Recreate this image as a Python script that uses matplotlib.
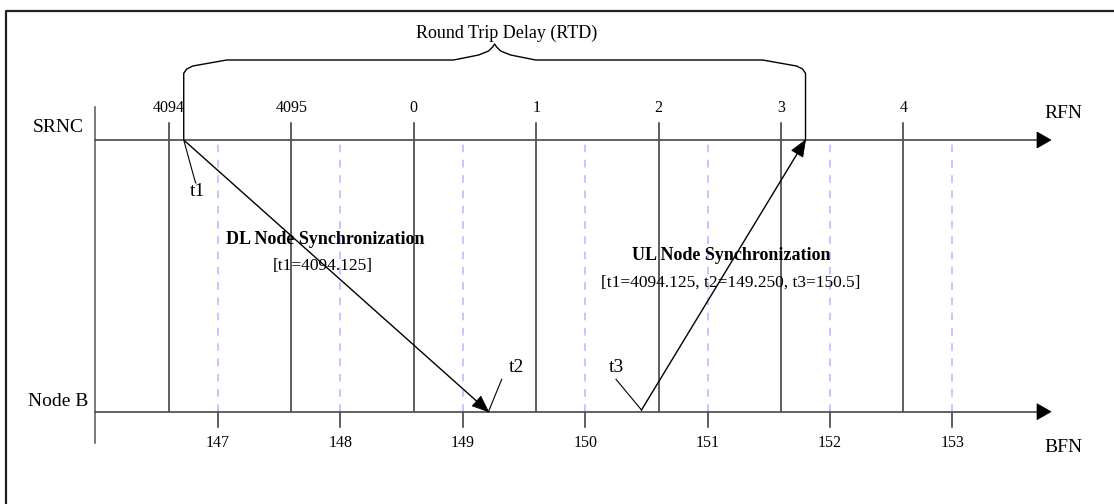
import matplotlib
matplotlib.use("Agg")
import matplotlib.pyplot as plt
from matplotlib.patches import Polygon
import numpy as np

# ---------------- data ----------------
rfn_labels = ['4094', '4095', '0', '1', '2', '3', '4']
rfn_x = [146.6, 147.6, 148.6, 149.6, 150.6, 151.6, 152.6]      # RFN frame starts on BFN scale
bfn_ticks = [147, 148, 149, 150, 151, 152, 153]
bfn_labels = ['147', '148', '149', '150', '151', '152', '153']
t1_x = 146.72        # DL frame sent from SRNC
t2_x = 149.21        # DL frame arrives at Node B
t3_x = 150.46        # UL frame sent from Node B
t4_x = 151.80        # UL frame arrives at SRNC
dl_title = 'DL Node Synchronization'
dl_params = '[t1=4094.125]'
ul_title = 'UL Node Synchronization'
ul_params = '[t1=4094.125, t2=149.250, t3=150.5]'
rtd_label = 'Round Trip Delay (RTD)'

# ---------------- layout ----------------
W, H = 1114, 504
X0PX, XSCALE = 218.0, 122.4       # pixel of BFN 147, pixels per frame
Y0PX, YSCALE = 411.7, 271.7       # pixel of Node B line, pixels per level

def px2x(p):
    return 147 + (p - X0PX) / XSCALE

def px2y(p):
    return (Y0PX - p) / YSCALE

def x2px(x):
    return X0PX + (x - 147) * XSCALE

def y2px(y):
    return Y0PX - y * YSCALE

Y_SRNC, Y_NODEB = 1.0, 0.0

plt.rcParams['font.family'] = ['Liberation Serif', 'DejaVu Serif']
fig = plt.figure(figsize=(W / 100, H / 100), dpi=100)
ax = fig.add_axes([0, 0, 1, 1])
ax.set_xlim(px2x(0), px2x(W))
ax.set_ylim(px2y(H), px2y(0))
ax.axis('off')

axis_col = '#555555'
dash_col = '#cdaaff'

# outer frame (top and left only visible)
ax.plot([px2x(6), px2x(6), px2x(W + 5)], [px2y(H + 5), px2y(11), px2y(11)],
        color='#222222', lw=1.6, solid_capstyle='butt')

# left vertical reference line
ax.plot([px2x(95), px2x(95)], [px2y(107), px2y(443)], color=axis_col, lw=1.1)

def head(tip, frm, length=15, half=6.5):
    tx, ty = x2px(tip[0]), y2px(tip[1])
    fx, fy = x2px(frm[0]), y2px(frm[1])
    d = np.array([tx - fx, ty - fy])
    d /= np.hypot(*d)
    n = np.array([-d[1], d[0]])
    b = np.array([tx, ty]) - d * length
    pts = [(tx, ty), tuple(b + n * half), tuple(b - n * half)]
    ax.add_patch(Polygon([(px2x(p[0]), px2y(p[1])) for p in pts], closed=True,
                         facecolor='black', edgecolor='black', lw=0.5, zorder=5))

# time axes
x_end = px2x(1037)
for yy in (Y_SRNC, Y_NODEB):
    ax.plot([px2x(95), x_end], [yy, yy], color=axis_col, lw=1.3, zorder=3)
    head((px2x(1051), yy), (px2x(95), yy), length=14, half=8)

# RFN frame boundaries
for xv, lab in zip(rfn_x, rfn_labels):
    ax.plot([xv, xv], [Y_NODEB, px2y(123)], color='#333333', lw=1.1, zorder=2)
    ax.text(xv, px2y(108), lab, ha='center', va='center', fontsize=11.5)

# BFN frame boundaries
for xv, lab in zip(bfn_ticks, bfn_labels):
    ax.plot([xv, xv], [Y_NODEB, Y_SRNC], color=dash_col, lw=1.1,
            dashes=(5, 5), zorder=1)
    ax.plot([xv, xv], [Y_NODEB, px2y(426.7)], color='#333333', lw=1.1)
    ax.text(xv, px2y(443), lab, ha='center', va='center', fontsize=11.5)

# axis names
ax.text(px2x(84), px2y(128), 'SRNC', ha='right', va='center', fontsize=14)
ax.text(px2x(88), px2y(401), 'Node B', ha='right', va='center', fontsize=14)
ax.text(px2x(1063), px2y(113), 'RFN', ha='center', va='center', fontsize=14)
ax.text(px2x(1063), px2y(447), 'BFN', ha='center', va='center', fontsize=14)

# DL message
ax.plot([t1_x, t2_x], [Y_SRNC, Y_NODEB], color='black', lw=1.0, zorder=4)
head((t2_x, Y_NODEB), (t1_x, Y_SRNC), length=16, half=6.5)
# UL message
ax.plot([t3_x, t4_x], [px2y(410), Y_SRNC], color='black', lw=1.0, zorder=4)
head((t4_x, Y_SRNC), (t3_x, Y_NODEB), length=16, half=6.5)

# t labels with leaders
ax.plot([t1_x, px2x(195), px2x(196)], [Y_SRNC, px2y(181), px2y(183)],
        color='black', lw=0.8)
ax.text(px2x(197), px2y(192), 't1', ha='center', va='center', fontsize=14)
ax.plot([t2_x, px2x(501.7)], [Y_NODEB, px2y(379.3)], color='black', lw=0.8)
ax.text(px2x(516), px2y(368), 't2', ha='center', va='center', fontsize=14)
ax.plot([t3_x, px2x(616)], [px2y(410), px2y(379.3)], color='black', lw=0.8)
ax.text(px2x(616), px2y(368), 't3', ha='center', va='center', fontsize=14)

# annotation texts
ax.text(px2x(325), px2y(240), dl_title, ha='center', va='center', fontsize=13,
        fontweight='bold')
ax.text(px2x(323), px2y(266), dl_params, ha='center', va='center', fontsize=12.5)
ax.text(px2x(731), px2y(256), ul_title, ha='center', va='center', fontsize=13,
        fontweight='bold')
ax.text(px2x(731), px2y(283), ul_params, ha='center', va='center', fontsize=12.5)

# Round trip delay brace (from t1 to UL arrival)
L, R = x2px(t1_x), x2px(t4_x)
M = (L + R) / 2
brace_px = [(L, 140), (L, 73.3), (L + 3, 69), (L + 9, 66), (L + 43, 60),
            (M - 41, 60), (M - 16, 55), (M - 6, 51), (M - 2, 47), (M, 44),
            (M + 2, 47), (M + 6, 51), (M + 16, 55), (M + 41, 60),
            (R - 43, 60), (R - 9, 66), (R - 3, 69), (R, 73.3), (R, 140)]
ax.plot([px2x(p[0]) for p in brace_px], [px2y(p[1]) for p in brace_px],
        color='black', lw=1.0)
ax.text(px2x(507), px2y(33), rtd_label, ha='center', va='center', fontsize=13)

fig.savefig('out.png', dpi=100)
